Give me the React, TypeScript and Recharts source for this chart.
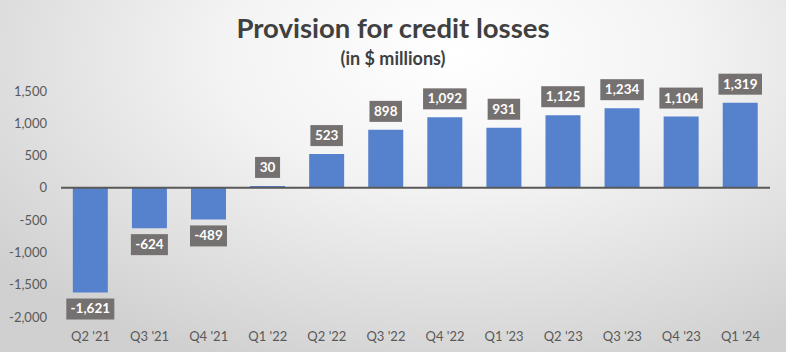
import React from 'react';
import { BarChart, Bar, XAxis, YAxis, ReferenceLine, LabelList } from 'recharts';

const quarters = ["Q2 '21", "Q3 '21", "Q4 '21", "Q1 '22", "Q2 '22", "Q3 '22", "Q4 '22", "Q1 '23", "Q2 '23", "Q3 '23", "Q4 '23", "Q1 '24"];
const provision = [-1621, -624, -489, 30, 523, 898, 1092, 931, 1125, 1234, 1104, 1319];
const yTicks = [-2000, -1500, -1000, -500, 0, 500, 1000, 1500];

const chartData = quarters.map((q, i) => ({ quarter: q, value: provision[i] }));

const FONT = 'Lato, "Open Sans", sans-serif';
const fmt = (v: number) => v.toLocaleString('en-US');

// rough width of the label text, bold 13px
const textWidth = (s: string) =>
  s.split('').reduce((w, c) => w + (c === ',' ? 3.5 : c === '-' ? 4.5 : 7.5), 0);

const ValueBox = (props: any) => {
  const { x, y, width, height, value } = props;
  const label = fmt(value);
  const w = textWidth(label) + 10;
  const h = 21;
  const cx = x + width / 2;
  const top = Math.min(y, y + height);
  const bottom = Math.max(y, y + height);
  const boxY = value >= 0 ? top - 8 - h : bottom + 6;
  return (
    <g>
      <rect x={cx - w / 2} y={boxY} width={w} height={h} fill="#767171" />
      <text
        x={cx}
        y={boxY + h / 2 + 1}
        textAnchor="middle"
        dominantBaseline="middle"
        fill="#ffffff"
        fontWeight="bold"
        fontSize={13.5}
        fontFamily={FONT}
      >
        {label}
      </text>
    </g>
  );
};

const App: React.FC = () => {
  return (
    <div
      style={{
        position: 'absolute',
        left: 0,
        top: 0,
        width: 786,
        height: 352,
        fontFamily: FONT,
        background: 'radial-gradient(ellipse 75% 95% at 58% 15%, #ffffff 0%, #f3f3f3 40%, #d0d0d0 100%)',
      }}
    >
      <div style={{ position: 'absolute', top: 11, width: 786, textAlign: 'center', fontSize: 27.5, fontWeight: 'bold', color: '#404040' }}>
        Provision for credit losses
      </div>
      <div style={{ position: 'absolute', top: 47, width: 786, textAlign: 'center', fontSize: 18, fontWeight: 'bold', color: '#404040' }}>
        (in $ millions)
      </div>
      <div style={{ position: 'absolute', left: 0, top: 0 }}>
        <BarChart
          width={786}
          height={352}
          data={chartData}
          margin={{ top: 91, right: 16, bottom: 0, left: 0 }}
          barCategoryGap="20%"
        >
          <XAxis
            dataKey="quarter"
            axisLine={false}
            tickLine={false}
            tickSize={0}
            tickMargin={15}
            height={35}
            interval={0}
            tick={{ fill: '#595959', fontSize: 13, fontFamily: FONT }}
          />
          <YAxis
            domain={[-2000, 1500]}
            ticks={yTicks}
            tickFormatter={fmt}
            axisLine={false}
            tickLine={false}
            tickSize={0}
            tickMargin={14}
            width={61}
            tick={{ fill: '#595959', fontSize: 13, fontFamily: FONT }}
          />
          <Bar dataKey="value" fill="#5681CD" isAnimationActive={false}>
            <LabelList dataKey="value" content={ValueBox} />
          </Bar>
          <ReferenceLine y={0} stroke="#595959" strokeWidth={2} />
        </BarChart>
      </div>
    </div>
  );
};

export default App;
